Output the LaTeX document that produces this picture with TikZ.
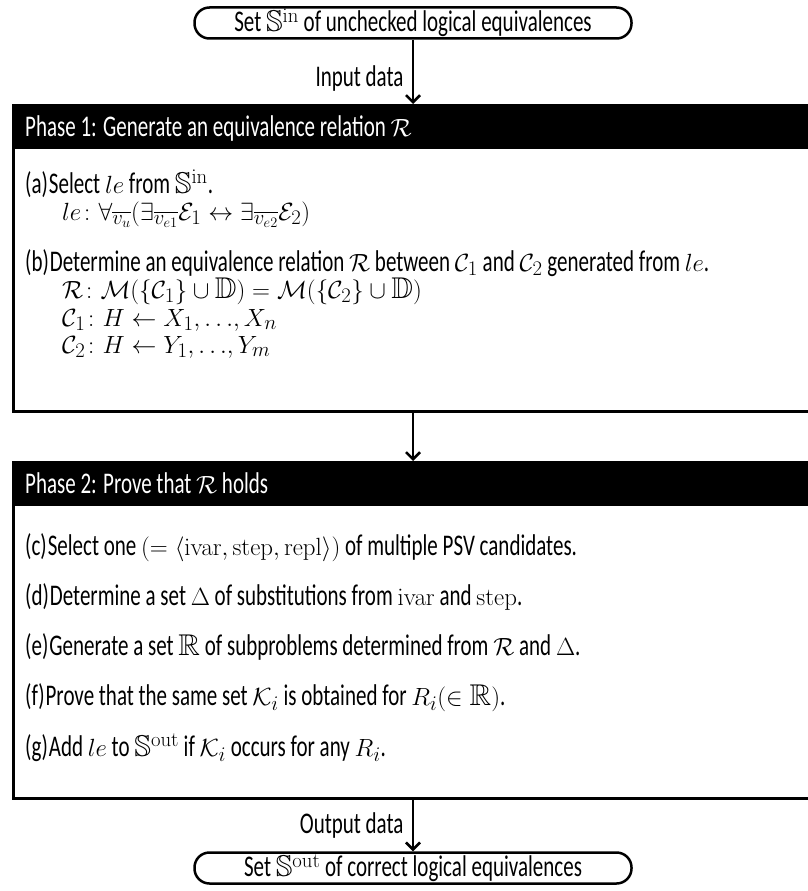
\documentclass[tikz,border=0pt]{standalone}
\usepackage{amsmath, amssymb}
\usepackage[no-math]{fontspec}
\setmainfont{Carlito}[FakeStretch=0.70]
\usetikzlibrary{arrows.meta, positioning}

\begin{document}
\begin{tikzpicture}[x=1pt, y=-1pt,
  every node/.style={font=\fontsize{30}{36}\selectfont},
  term/.style={draw, line width=2.5pt, rounded corners=15pt, minimum width=437pt, minimum height=31pt, inner sep=0pt},
  phasebox/.style={draw, line width=3pt, anchor=north west, minimum width=818pt, inner sep=0pt},
  phasehead/.style={fill=black, anchor=north west, minimum width=818pt, minimum height=45pt, inner sep=0pt},
  headtext/.style={text=white, anchor=base west, inner sep=0pt},
  itemline/.style={anchor=base west, inner sep=0pt},
  arr/.style={line width=2.5pt, -{Straight Barb[length=7pt, width=14pt]}}]
  \useasboundingbox (0,0) rectangle (808,891);
  \clip (0,0) rectangle (808,891);

  % input and output sets
  \node[term] (in) at (413,23) {Set $\mathbb{S}^{\mathrm{in}}$ of unchecked logical equivalences};
  \node[term] (out) at (413,868) {Set $\mathbb{S}^{\mathrm{out}}$ of correct logical equivalences};

  % phase 1
  \node[phasebox, minimum height=306pt] (p1) at (12,104) {};
  \node[phasehead] (h1) at (p1.north west) {};
  \node[headtext] (t1) at (25,136) {Phase 1: Generate an equivalence relation $\mathcal{R}$};
  \node[itemline] (a1) at (25,193) {(a)\kern1pt Select $le$ from $\mathbb{S}^{\mathrm{in}}$.};
  \node[itemline] (a2) at (62,220) {$le\colon \forall_{\overline{v_u}}(\exists_{\overline{v_{e1}}}\mathcal{E}_1 \leftrightarrow \exists_{\overline{v_{e2}}}\mathcal{E}_2)$};
  \node[itemline] (b1) at (25,271) {(b)\kern1pt Determine an equivalence relation $\mathcal{R}$ between $\mathcal{C}_1$ and $\mathcal{C}_2$ generated from $le$.};
  \node[itemline] (b2) at (62,298) {$\mathcal{R}\colon \mathcal{M}(\{\mathcal{C}_1\}\cup\mathbb{D}) = \mathcal{M}(\{\mathcal{C}_2\}\cup\mathbb{D})$};
  \node[itemline] (b3) at (62,326) {$\mathcal{C}_1\colon H \leftarrow X_1,{\ldots},X_n$};
  \node[itemline] (b4) at (62,353) {$\mathcal{C}_2\colon H \leftarrow Y_1,{\ldots},Y_m$};

  % phase 2
  \node[phasebox, minimum height=336pt] (p2) at (12,461) {};
  \node[phasehead] (h2) at (p2.north west) {};
  \node[headtext] (t2) at (25,493) {Phase 2: Prove that $\mathcal{R}$ holds};
  \node[itemline] (c) at (25,555) {(c)\kern1pt Select one $(=\langle\mathrm{ivar},\mathrm{step},\mathrm{repl}\rangle)$ of multiple PSV candidates.};
  \node[itemline] (d) at (25,605) {(d)\kern1pt Determine a set $\Delta$ of substitutions from $\mathrm{ivar}$ and $\mathrm{step}$.};
  \node[itemline] (e) at (25,655) {(e)\kern1pt Generate a set $\mathbb{R}$ of subproblems determined from $\mathcal{R}$ and $\Delta$.};
  \node[itemline] (f) at (25,705) {(f)\kern1pt Prove that the same set $\mathcal{K}_i$ is obtained for $R_i(\in\mathbb{R})$.};
  \node[itemline] (g) at (25,756) {(g)\kern1pt Add $le$ to $\mathbb{S}^{\mathrm{out}}$ if $\mathcal{K}_i$ occurs for any $R_i$.};

  % data flow
  \draw[arr] (in) -- node[left=5pt, pos=0.6] {Input data} (in |- p1.north);
  \draw[arr] (in |- p1.south) -- (in |- p2.north);
  \draw[arr] (in |- p2.south) -- node[left=5pt, pos=0.5] {Output data} (out);
\end{tikzpicture}
\end{document}
